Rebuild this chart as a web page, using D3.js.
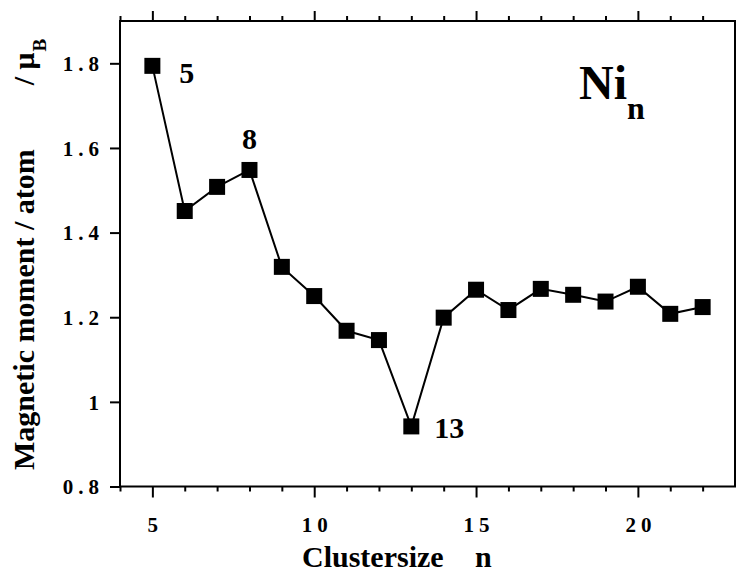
<!DOCTYPE html>
<html>
<head>
<meta charset="utf-8">
<script src="https://cdn.jsdelivr.net/npm/d3@7/dist/d3.min.js"></script>
<style>
  body { margin: 0; background: #fff; }
  svg { display: block; }
  text { font-family: "Liberation Serif", "Times New Roman", serif; font-weight: bold; fill: #000; }
</style>
</head>
<body>
<script>
var clusterSizes  = [5, 6, 7, 8, 9, 10, 11, 12, 13, 14, 15, 16, 17, 18, 19, 20, 21, 22];
var momentPerAtom = [1.794, 1.451, 1.508, 1.548, 1.319, 1.250, 1.168, 1.146, 0.942,
                     1.199, 1.265, 1.217, 1.267, 1.253, 1.237, 1.272, 1.208, 1.224];
var xMajorTicks  = [5, 10, 15, 20];
var xMinorTicks  = [4, 6, 7, 8, 9, 11, 12, 13, 14, 16, 17, 18, 19, 21, 22];
var xTickLabels  = ["5", "10", "15", "20"];
var yTickValues  = [0.8, 1.0, 1.2, 1.4, 1.6, 1.8];
var yTickLabels  = ["0.8", "1", "1.2", "1.4", "1.6", "1.8"];
var labelledSizes = [5, 8, 13];

var width = 736, height = 572;
var margin = {top: 21, right: 1, bottom: 85.5, left: 120};

var svg = d3.select("body").append("svg")
    .attr("width", width)
    .attr("height", height);

var x = d3.scaleLinear().domain([4, 23]).range([margin.left, width - margin.right]);
var y = d3.scaleLinear().domain([0.8, 1.9]).range([height - margin.bottom, margin.top]);

var points = clusterSizes.map(function (n, i) { return {n: n, m: momentPerAtom[i]}; });

// frame
svg.append("rect")
    .attr("x", x.range()[0]).attr("y", y.range()[1])
    .attr("width", x.range()[1] - x.range()[0])
    .attr("height", y.range()[0] - y.range()[1])
    .attr("fill", "none").attr("stroke", "#000").attr("stroke-width", 2);

function styleAxis(g) {
    g.select(".domain").remove();
    g.selectAll("line").attr("stroke", "#000").attr("stroke-width", 2);
}

var bottomY = y.range()[0], topY = y.range()[1];

// bottom axis
svg.append("g").attr("transform", "translate(0," + bottomY + ")")
    .call(d3.axisBottom(x).tickValues(xMinorTicks).tickSize(5).tickFormat(""))
    .call(styleAxis);
var xMajor = svg.append("g").attr("transform", "translate(0," + bottomY + ")")
    .call(d3.axisBottom(x).tickValues(xMajorTicks).tickSize(11)
        .tickFormat(function (d, i) { return xTickLabels[i]; }))
    .call(styleAxis);
xMajor.selectAll("text")
    .attr("y", 45).attr("dy", 0)
    .attr("font-size", 21)
    .attr("font-family", null)
    .style("letter-spacing", "5px")
    .attr("dx", 2.5);

// top axis
svg.append("g").attr("transform", "translate(0," + topY + ")")
    .call(d3.axisTop(x).tickValues(xMinorTicks).tickSize(5).tickFormat(""))
    .call(styleAxis);
svg.append("g").attr("transform", "translate(0," + topY + ")")
    .call(d3.axisTop(x).tickValues(xMajorTicks).tickSize(10).tickFormat(""))
    .call(styleAxis);

// left axis
var yAxis = svg.append("g").attr("transform", "translate(" + x.range()[0] + ",0)")
    .call(d3.axisLeft(y).tickValues(yTickValues).tickSize(10)
        .tickFormat(function (d, i) { return yTickLabels[i]; }))
    .call(styleAxis);
yAxis.selectAll("text")
    .attr("x", -16)
    .attr("dy", "0.35em")
    .attr("font-size", 21)
    .attr("font-family", null)
    .style("letter-spacing", "5px");

// data line and markers
var line = d3.line().x(function (d) { return x(d.n); }).y(function (d) { return y(d.m); });
svg.append("path").datum(points)
    .attr("d", line)
    .attr("fill", "none").attr("stroke", "#000").attr("stroke-width", 2);

var mSize = 16;
svg.selectAll("rect.marker").data(points).enter().append("rect")
    .attr("class", "marker")
    .attr("x", function (d) { return x(d.n) - mSize / 2; })
    .attr("y", function (d) { return y(d.m) - mSize / 2; })
    .attr("width", mSize).attr("height", mSize)
    .attr("fill", "#000");

// size labels beside the special clusters
var labelOffsets = {5: [27, 17, "start"], 8: [0, -21, "middle"], 13: [23, 12, "start"]};
svg.selectAll("text.sizeLabel").data(points.filter(function (d) { return labelledSizes.indexOf(d.n) >= 0; }))
    .enter().append("text")
    .attr("class", "sizeLabel")
    .attr("x", function (d) { return x(d.n) + labelOffsets[d.n][0]; })
    .attr("y", function (d) { return y(d.m) + labelOffsets[d.n][1]; })
    .attr("text-anchor", function (d) { return labelOffsets[d.n][2]; })
    .attr("font-size", 30)
    .text(function (d) { return d.n; });

// Ni_n
var title = svg.append("text").attr("x", 579).attr("y", 99).attr("font-size", 48);
title.append("tspan").text("Ni");
title.append("tspan").attr("font-size", 32).attr("dy", 20).text("n");

// axis titles
svg.append("text")
    .attr("x", 302).attr("y", 567)
    .attr("font-size", 30)
    .text("Clustersize");
svg.append("text")
    .attr("x", 475).attr("y", 567)
    .attr("font-size", 30)
    .text("n");

var yTitle = svg.append("text")
    .attr("transform", "translate(34,470) rotate(-90)")
    .attr("font-size", 30);
yTitle.append("tspan").text("Magnetic moment / atom");
yTitle.append("tspan").attr("dx", 64).text("/ \u03bc");
yTitle.append("tspan").attr("font-size", 19).attr("dy", 12).attr("dx", 1).text("B");
</script>
</body>
</html>
